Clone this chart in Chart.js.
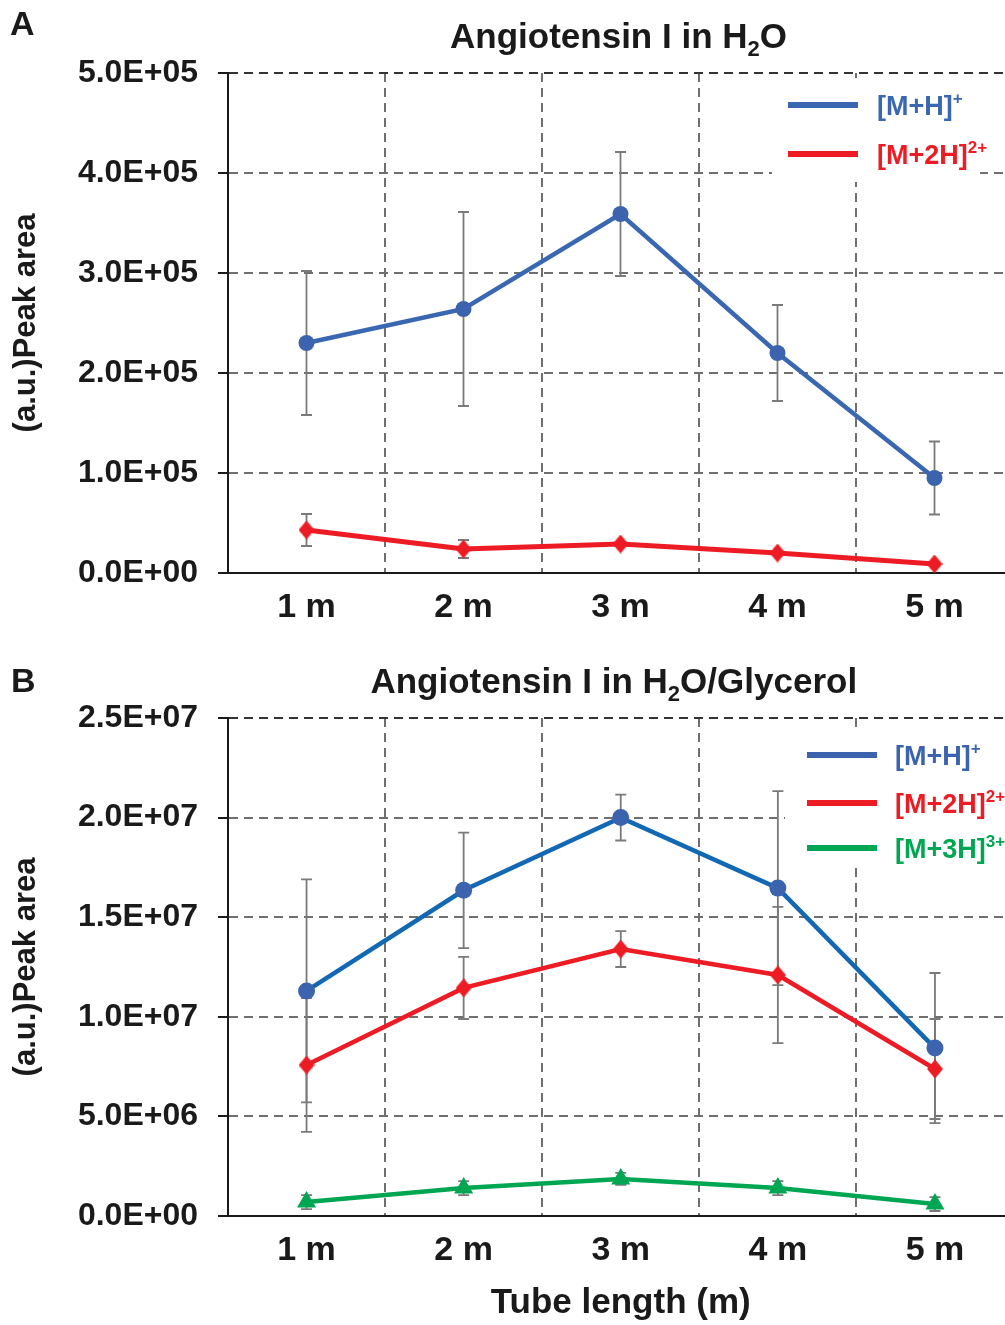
<!DOCTYPE html>
<html>
<head>
<meta charset="utf-8">
<script src="https://cdn.jsdelivr.net/npm/chart.js@4/dist/chart.umd.min.js"></script>
<style>
    html, body { margin: 0; padding: 0; background: #fff; overflow: hidden; width: 1005px; height: 1325px; }
    #wrapA { position: absolute; left: 0; top: 0; }
    #wrapB { position: absolute; left: 0; top: 645px; }
</style>
</head>
<body>
<div id="wrapA"><canvas id="chartA" width="1027" height="645"></canvas></div>
<div id="wrapB"><canvas id="chartB" width="1027" height="680"></canvas></div>
<script>
// categories
var tubeLengths = ['1 m', '2 m', '3 m', '4 m', '5 m'];

// panel A : Angiotensin I in H2O
var yTicksA = ['0.0E+00', '1.0E+05', '2.0E+05', '3.0E+05', '4.0E+05', '5.0E+05'];
var mhA = [230000, 264000, 359000, 220000, 95000];
var mhErrA = [72000, 97000, 62000, 48000, 36500];
var m2hA = [43000, 24000, 29000, 20000, 9000];
var m2hErrA = [16000, 9000, 0, 0, 0];

// panel B : Angiotensin I in H2O/Glycerol
var yTicksB = ['0.0E+00', '5.0E+06', '1.0E+07', '1.5E+07', '2.0E+07', '2.5E+07'];
var mhB = [11300000, 16350000, 20000000, 16460000, 8430000];
var mhErrB = [5600000, 2900000, 1150000, 4870000, 3770000];
var m2hB = [7580000, 11450000, 13400000, 12100000, 7380000];
var m2hErrB = [3360000, 1560000, 900000, 3420000, 2510000];
var m3hB = [700000, 1400000, 1860000, 1400000, 600000];
var m3hErrB = [350000, 350000, 300000, 350000, 350000];

// text pieces (odd index = sub/superscript)
var titleA = ['Angiotensin I in H', '2', 'O'];
var titleB = ['Angiotensin I in H', '2', 'O/Glycerol'];
var labelMH = ['[M+H]', '+'];
var labelM2H = ['[M+2H]', '2+'];
var labelM3H = ['[M+3H]', '3+'];

var FONT = '"Liberation Sans", Arial, Helvetica, sans-serif';
var INK = '#1a1a1a';
var GRID = '#6f6f6f';

function diamond(color, w, h) {
    var c = document.createElement('canvas');
    c.width = w; c.height = h;
    var g = c.getContext('2d');
    g.fillStyle = color;
    g.beginPath();
    g.moveTo(w / 2, 0); g.lineTo(w, h / 2); g.lineTo(w / 2, h); g.lineTo(0, h / 2);
    g.closePath();
    g.fill();
    return c;
}

// draw text made of normal / shifted parts
function drawParts(ctx, parts, x, y, size, smallSize, shift, align) {
    var widths = [], total = 0;
    parts.forEach(function (p, i) {
        ctx.font = 'bold ' + (i % 2 ? smallSize : size) + 'px ' + FONT;
        var w = ctx.measureText(p).width;
        widths.push(w); total += w;
    });
    var cx = align === 'center' ? x - total / 2 : x;
    ctx.textAlign = 'left';
    ctx.textBaseline = 'middle';
    parts.forEach(function (p, i) {
        ctx.font = 'bold ' + (i % 2 ? smallSize : size) + 'px ' + FONT;
        ctx.fillText(p, cx, i % 2 ? y + shift : y);
        cx += widths[i];
    });
}

var errorBars = {
    id: 'errorBars',
    beforeDatasetsDraw: function (chart) {
        var ctx = chart.ctx, y = chart.scales.y;
        ctx.save();
        ctx.strokeStyle = '#7a7a7a';
        ctx.lineWidth = 1.8;
        chart.data.datasets.forEach(function (ds, i) {
            var meta = chart.getDatasetMeta(i);
            ds.errors.forEach(function (e, j) {
                if (!e) return;
                var x = meta.data[j].x;
                var top = y.getPixelForValue(ds.data[j] + e);
                var bot = y.getPixelForValue(ds.data[j] - e);
                ctx.beginPath();
                ctx.moveTo(x, top); ctx.lineTo(x, bot);
                ctx.moveTo(x - 5.5, top); ctx.lineTo(x + 5.5, top);
                ctx.moveTo(x - 5.5, bot); ctx.lineTo(x + 5.5, bot);
                ctx.stroke();
            });
        });
        ctx.restore();
    }
};

var header = {
    id: 'header',
    afterDraw: function (chart, args, opts) {
        var ctx = chart.ctx, area = chart.chartArea;
        ctx.save();
        ctx.fillStyle = INK;
        drawParts(ctx, [opts.letter], opts.letterX, opts.letterY, 34, 20, 0, 'left');
        drawParts(ctx, opts.title, (area.left + area.right) / 2 + opts.titleDX, opts.titleY, 35, 22, 12, 'center');
        ctx.restore();
    }
};

var sketchLegend = {
    id: 'sketchLegend',
    afterDraw: function (chart, args, opts) {
        var ctx = chart.ctx;
        ctx.save();
        ctx.fillStyle = '#fff';
        ctx.fillRect(opts.box[0], opts.box[1], opts.box[2], opts.box[3]);
        chart.data.datasets.forEach(function (ds, i) {
            var ry = opts.rows[i];
            ctx.strokeStyle = ds.legendColor;
            ctx.lineWidth = 6;
            ctx.beginPath();
            ctx.moveTo(opts.lineX[0], ry); ctx.lineTo(opts.lineX[1], ry);
            ctx.stroke();
            ctx.fillStyle = ds.legendColor;
            drawParts(ctx, ds.labelParts, opts.textX, ry + 3, 27, 17, -9, 'left');
        });
        ctx.restore();
    }
};

function scales(yMax, yStep, yTicks, xHeight, xTitle) {
    return {
        x: {
            type: 'category',
            offset: true,
            grid: { offset: true, color: GRID, lineWidth: 2, drawTicks: false },
            border: { display: true, color: INK, width: 2, dash: [9, 6] },
            ticks: { color: INK, padding: 14, maxRotation: 0, font: { family: FONT, size: 34, weight: 'bold' } },
            title: {
                display: !!xTitle, text: xTitle || '', color: INK,
                font: { family: FONT, size: 35, weight: 'bold' }, padding: { top: 0, bottom: 1 }
            },
            afterFit: function (s) {
                s.height = xHeight;
                s.paddingLeft = 0;
                s.paddingRight = 0;
            }
        },
        y: {
            min: 0, max: yMax,
            ticks: {
                stepSize: yStep, padding: 20, color: INK,
                font: { family: FONT, size: 32, weight: 'bold' },
                callback: function (v, i) { return yTicks[i]; }
            },
            grid: {
                color: function (c) { return c.tick && c.tick.value === yMax ? '#333' : GRID; },
                lineWidth: 2, tickLength: 10, tickColor: INK, tickWidth: 2, tickBorderDash: []
            },
            border: { display: true, color: INK, width: 2, dash: [9, 6] },
            title: {
                display: true, text: '(a.u.)Peak area', color: INK,
                font: { family: FONT, size: 31, weight: 'bold' }, padding: { top: 8, bottom: 0 }
            },
            afterFit: function (s) { s.width = 228; }
        }
    };
}

var blueA = '#3a67b1', blueB = '#1268b3', bluePt = '#3b63ae', red = '#ed1c24', green = '#00a651';

new Chart(document.getElementById('chartA'), {
    type: 'line',
    data: {
        labels: tubeLengths,
        datasets: [
            {
                label: '[M+H]+', labelParts: labelMH, legendColor: blueA,
                data: mhA, errors: mhErrA,
                borderColor: blueA, borderWidth: 4.5,
                pointStyle: 'circle', pointRadius: 8, pointBackgroundColor: bluePt, pointBorderWidth: 0
            },
            {
                label: '[M+2H]2+', labelParts: labelM2H, legendColor: red,
                data: m2hA, errors: m2hErrA,
                borderColor: red, borderWidth: 5,
                pointStyle: diamond(red, 16, 19), pointRadius: 9
            }
        ]
    },
    options: {
        responsive: false, animation: false, events: [],
        layout: { padding: { top: 73, left: 0, right: 0, bottom: 0 } },
        plugins: {
            legend: { display: false }, tooltip: { enabled: false },
            header: { letter: 'A', letterX: 10, letterY: 26, title: titleA, titleY: 38, titleDX: -2 },
            sketchLegend: { box: [772, 78, 208, 104], lineX: [788, 858], textX: 877, rows: [105, 154] }
        },
        scales: scales(500000, 100000, yTicksA, 72, null)
    },
    plugins: [errorBars, header, sketchLegend]
});

new Chart(document.getElementById('chartB'), {
    type: 'line',
    data: {
        labels: tubeLengths,
        datasets: [
            {
                label: '[M+H]+', labelParts: labelMH, legendColor: bluePt,
                data: mhB, errors: mhErrB,
                borderColor: blueB, borderWidth: 4.5,
                pointStyle: 'circle', pointRadius: 8.5, pointBackgroundColor: bluePt, pointBorderWidth: 0
            },
            {
                label: '[M+2H]2+', labelParts: labelM2H, legendColor: red,
                data: m2hB, errors: m2hErrB,
                borderColor: red, borderWidth: 4.5,
                pointStyle: diamond(red, 16, 19), pointRadius: 9
            },
            {
                label: '[M+3H]3+', labelParts: labelM3H, legendColor: green,
                data: m3hB, errors: m3hErrB,
                borderColor: green, borderWidth: 4.5,
                pointStyle: 'triangle', pointRadius: 11, pointBackgroundColor: green, pointBorderWidth: 0
            }
        ]
    },
    options: {
        responsive: false, animation: false, events: [],
        layout: { padding: { top: 73, left: 0, right: 0, bottom: 0 } },
        plugins: {
            legend: { display: false }, tooltip: { enabled: false },
            header: { letter: 'B', letterX: 11, letterY: 38, title: titleB, titleY: 38, titleDX: -7 },
            sketchLegend: { box: [785, 84, 240, 134], lineX: [807, 877], textX: 895, rows: [110, 158, 203] }
        },
        scales: scales(25000000, 5000000, yTicksB, 109, 'Tube length (m)')
    },
    plugins: [errorBars, header, sketchLegend]
});
</script>
</body>
</html>
